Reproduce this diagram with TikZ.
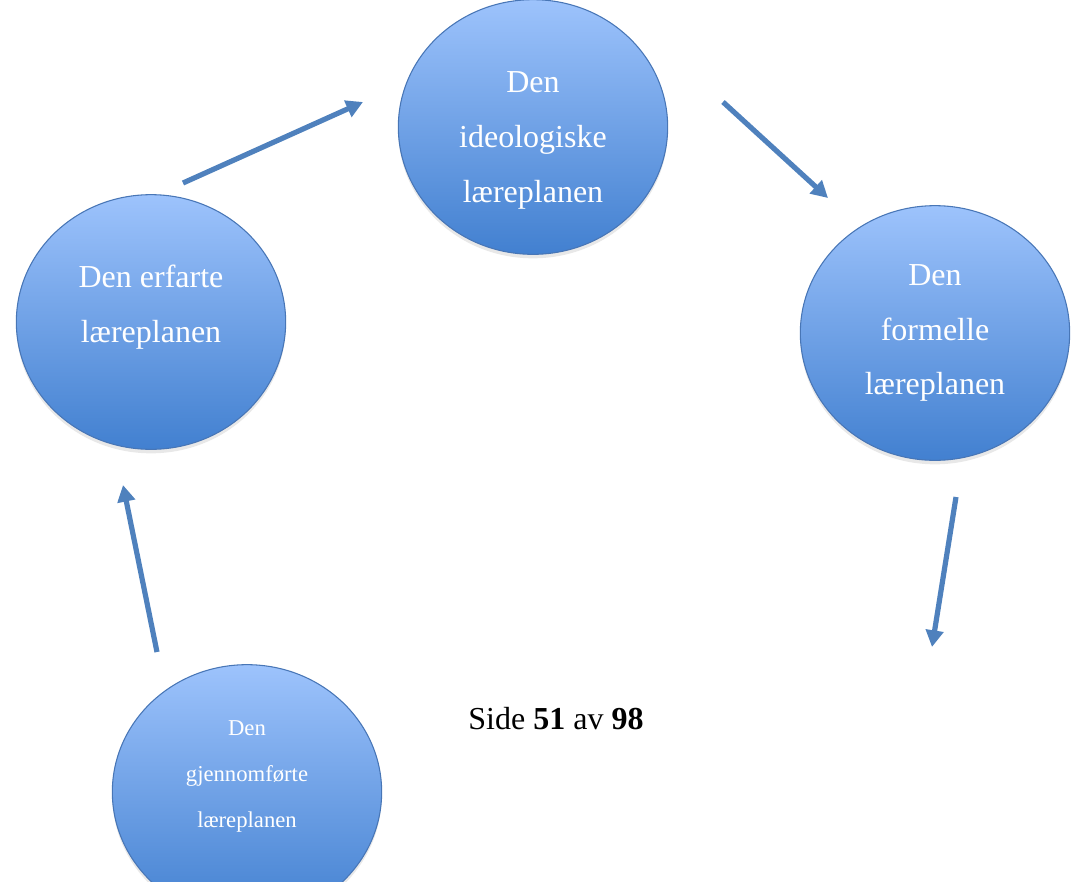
\documentclass[tikz,border=0pt]{standalone}
\usepackage{fontspec}
\setmainfont{Liberation Serif}
\usetikzlibrary{arrows.meta,positioning,shapes.geometric,shadows}
\definecolor{plantop}{RGB}{157,195,252}
\definecolor{planbot}{RGB}{66,128,208}
\definecolor{planline}{RGB}{72,118,182}
\definecolor{cyclearr}{RGB}{79,129,189}

\begin{document}
\begin{tikzpicture}[x=0.75pt,y=-0.75pt,
  plan/.style={ellipse,draw=planline,line width=0.8pt,top color=plantop,bottom color=planbot,
    inner sep=0pt,minimum width=202pt,minimum height=191pt,
    drop shadow={opacity=0.18,shadow xshift=0pt,shadow yshift=-3pt}},
  plantxt/.style={text=white,align=center,inner sep=0pt,font=\fontsize{24}{41}\selectfont},
  small/.style={font=\fontsize{17}{34.5}\selectfont},
  arr/.style={-{Triangle[width=13pt,length=12.5pt]},line width=3.9pt,draw=cyclearr}]
\useasboundingbox (0,0) rectangle (1072,882);
% the four curricula
\node[plan] (ideo) at (533,127) {};
\node[plan] (form) at (935,333) {};
\node[plan] (gjen) at (247,792) {};
\node[plan] (erf) at (151,322) {};
\node[plantxt] (ideo-t) at ([yshift=-10pt]ideo.center) {Den\\ideologiske\\læreplanen};
\node[plantxt] (form-t) at (form.center) {Den\\formelle\\læreplanen};
\node[plantxt,small] (gjen-t) at ([yshift=12pt]gjen.center) {Den\\gjennomførte\\læreplanen};
\node[plantxt] (erf-t) at ([yshift=-7pt]erf.center) {Den erfarte\\læreplanen\\\mbox{}};
% arrow ends
\coordinate (e1) at (183,183); \coordinate (i1) at (363,102);
\coordinate (i2) at (723,102); \coordinate (f2) at (828,198);
\coordinate (f3) at (956,497); \coordinate (g3) at (932,647);
\coordinate (g4) at (157,652); \coordinate (e4) at (123,485);
\draw[arr] (e1) -- (i1);
\draw[arr] (i2) -- (f2);
\draw[arr] (f3) -- (g3);
\draw[arr] (g4) -- (e4);
\node[font=\fontsize{24}{28}\selectfont] (side) at (556,719) {Side \textbf{51} av \textbf{98}};
\end{tikzpicture}
\end{document}
